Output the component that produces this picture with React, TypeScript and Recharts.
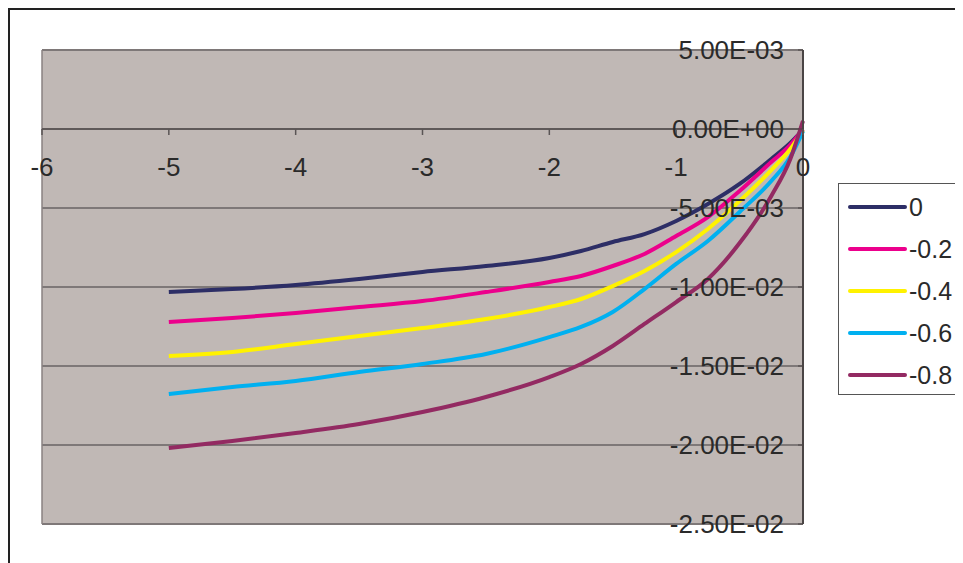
import React from 'react'
import { LineChart, Line, XAxis, YAxis, CartesianGrid, Legend, ReferenceLine, ReferenceDot } from 'recharts'

// x positions sampled along the curves
const X_VALUES = [-5, -4.5, -4, -3.5, -3, -2.5, -2, -1.75, -1.5, -1.25, -1, -0.75, -0.5, -0.25, -0.1, 0]

const S_0 = [-0.01032, -0.01013, -0.00987, -0.00949, -0.00905, -0.00867, -0.00817, -0.00772, -0.00715, -0.00665, -0.00582, -0.00475, -0.00348, -0.0019, -0.00089, -0.00006]
const S_02 = [-0.01222, -0.01196, -0.01165, -0.01127, -0.01089, -0.01032, -0.00968, -0.0093, -0.00867, -0.00791, -0.00677, -0.00557, -0.00392, -0.00209, -0.00101, 0]
const S_04 = [-0.01437, -0.01411, -0.01361, -0.0131, -0.0126, -0.01203, -0.01127, -0.01076, -0.00994, -0.00899, -0.00779, -0.00633, -0.00456, -0.0026, -0.00127, -0.00006]
const S_06 = [-0.01677, -0.01633, -0.01595, -0.01538, -0.01487, -0.01424, -0.01317, -0.01253, -0.01158, -0.01013, -0.00854, -0.00709, -0.00525, -0.00329, -0.00177, -0.00013]
const S_08 = [-0.02019, -0.01975, -0.01924, -0.01867, -0.01791, -0.01696, -0.0157, -0.01487, -0.01373, -0.01234, -0.01095, -0.00949, -0.00722, -0.00424, -0.0019, 0.00051]

const SERIES_NAMES = ['0', '-0.2', '-0.4', '-0.6', '-0.8']
const SERIES_VALUES = [S_0, S_02, S_04, S_06, S_08]
const COLORS = ['#2D2E66', '#EC008C', '#FFF200', '#00B0F0', '#932A62']

const X_TICKS = [-6, -5, -4, -3, -2, -1, 0]
const Y_TICKS = [0.005, 0, -0.005, -0.01, -0.015, -0.02, -0.025]

const FONT = '"Liberation Sans", Arial, sans-serif'
const TEXT = '#2a2a2a'
const FONT_SIZE = 26

const data = X_VALUES.map((x, i) => {
  const row: any = { x }
  SERIES_NAMES.forEach((name, s) => {
    row[name] = SERIES_VALUES[s][i]
  })
  return row
})

const fmtSci = (v: number) => {
  const [m, e] = v.toExponential(2).split('e')
  return `${m}E${e[0]}${e.slice(1).padStart(2, '0')}`
}

// x ticks sit on the y=0 line, so they are drawn as reference dots
const XTickShape = (props: any) => {
  const { cx, cy, label } = props
  return (
    <g>
      <line x1={cx} y1={cy} x2={cx} y2={cy + 6} stroke="#5a5555" strokeWidth={1.5} />
      <text x={cx} y={cy + 38} dy="0.355em" textAnchor="middle" fill={TEXT} fontSize={FONT_SIZE} fontFamily={FONT}>
        {label}
      </text>
    </g>
  )
}

const LegendBox = () => (
  <div
    style={{
      width: 130,
      height: 212,
      border: '1.5px solid #555',
      background: '#fff',
      boxSizing: 'border-box',
      paddingTop: 2,
      fontFamily: FONT,
    }}
  >
    {SERIES_NAMES.map((name, i) => (
      <div key={name} style={{ display: 'flex', alignItems: 'center', height: 42 }}>
        <div style={{ marginLeft: 9, width: 59, height: 4, borderRadius: 2, background: COLORS[i] }} />
        <span style={{ marginLeft: 2, fontSize: 25, color: TEXT, whiteSpace: 'nowrap' }}>{name}</span>
      </div>
    ))}
  </div>
)

export default function App() {
  return (
    <div
      style={{
        position: 'relative',
        width: 955,
        height: 555,
        borderTop: '2px solid #222',
        borderLeft: '2px solid #222',
        boxSizing: 'border-box',
        overflow: 'hidden',
        background: '#fff',
      }}
    >
      <LineChart
        width={953}
        height={553}
        data={data}
        margin={{ top: 40, right: 160, bottom: 39, left: 32 }}
        style={{ fontFamily: FONT }}
      >
        <CartesianGrid vertical={false} fill="#C0B8B5" stroke="#7E7878" strokeWidth={2} />
        <XAxis dataKey="x" type="number" domain={[-6, 0]} ticks={X_TICKS} hide />
        <YAxis
          type="number"
          orientation="right"
          mirror
          width={60}
          domain={[-0.025, 0.005]}
          ticks={Y_TICKS}
          interval={0}
          tickFormatter={fmtSci}
          tickSize={5}
          tickMargin={14}
          tick={{ fill: TEXT, fontSize: FONT_SIZE, fontFamily: FONT }}
          axisLine={{ stroke: '#4a4545', strokeWidth: 2 }}
          tickLine={{ stroke: '#4a4545' }}
        />
        <ReferenceLine x={-6} stroke="#8a8282" strokeWidth={1.5} />
        <ReferenceLine y={0} stroke="#5f5959" strokeWidth={2} />
        {X_TICKS.map((t) => (
          <ReferenceDot
            key={t}
            x={t}
            y={0}
            r={0}
            shape={(p: any) => <XTickShape {...p} label={t} />}
          />
        ))}
        {SERIES_NAMES.map((name, i) => (
          <Line
            key={name}
            type="monotone"
            dataKey={name}
            stroke={COLORS[i]}
            strokeWidth={4}
            dot={false}
            isAnimationActive={false}
          />
        ))}
        <Legend
          layout="vertical"
          align="center"
          verticalAlign="middle"
          content={() => <LegendBox />}
          wrapperStyle={{ left: 828, top: 173, width: 130 }}
        />
      </LineChart>
    </div>
  )
}
